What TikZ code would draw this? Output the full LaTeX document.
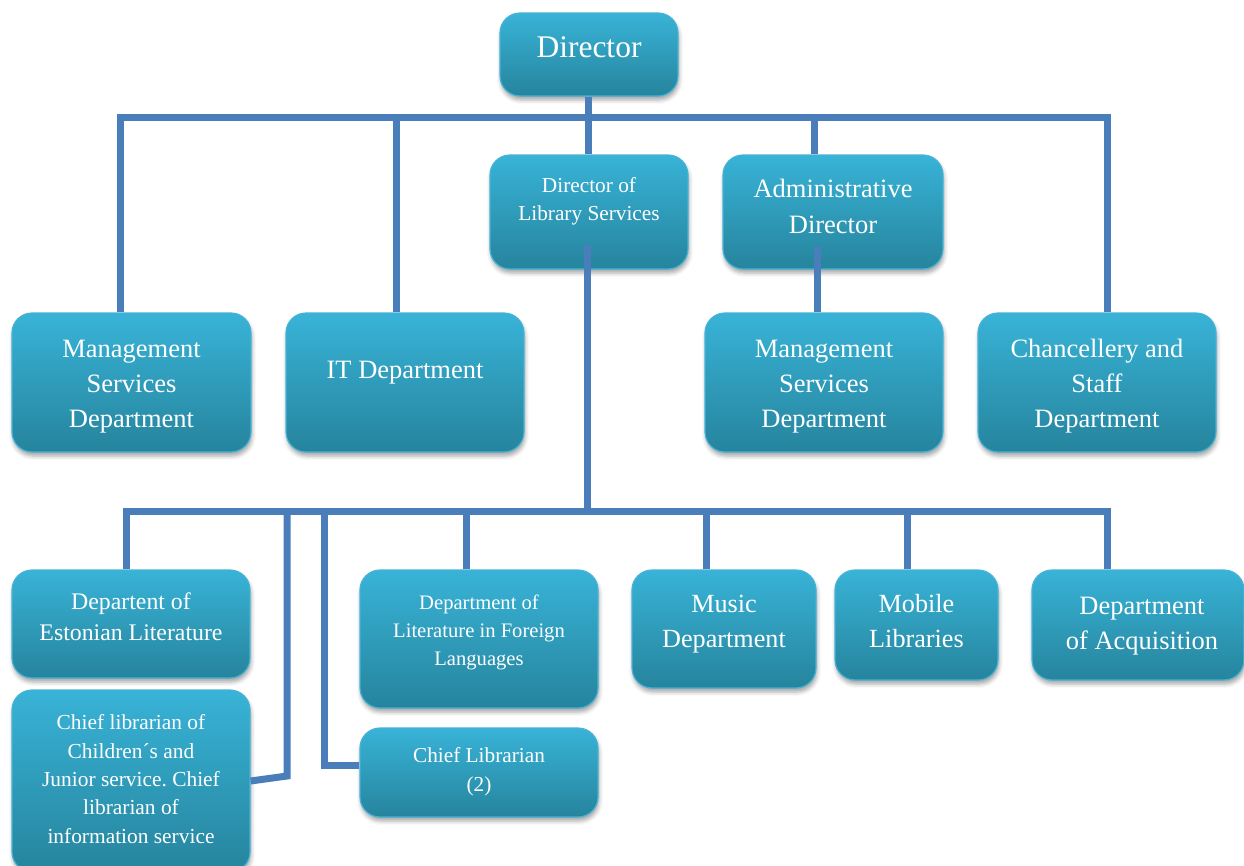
\documentclass[tikz,border=0pt]{standalone}
\usepackage{fontspec}
\setmainfont{Liberation Serif}
\usetikzlibrary{shadows.blur}
\definecolor{boxtop}{HTML}{38B3D7}
\definecolor{boxbot}{HTML}{26849D}
\definecolor{boxline}{HTML}{45B2D6}
\definecolor{lineblue}{HTML}{4A7EBB}
\tikzset{
  orgbox/.style={rectangle, rounded corners=20pt, top color=boxtop, bottom color=boxbot,
    draw=boxline, line width=1.2pt, inner sep=0pt,
    blur shadow={shadow xshift=1pt, shadow yshift=-4pt, shadow blur radius=4pt, shadow opacity=35}},
  txt/.style={text=white, align=center, inner sep=0pt},
  conn/.style={draw=lineblue, line width=7pt}
}
\newcommand{\fs}[2]{\fontsize{#1}{#2}\selectfont}
\frenchspacing
\begin{document}
\begin{tikzpicture}[x=1pt,y=-1pt]
\useasboundingbox (0,0) rectangle (1244,865);
% boxes
\node[orgbox, minimum width=178pt, minimum height=83pt] (dir) at (589,54.5) {};
\node[orgbox, minimum width=198pt, minimum height=114pt] (dls) at (589,212) {};
\node[orgbox, minimum width=220pt, minimum height=114pt] (adm) at (833,212) {};
\node[orgbox, minimum width=239pt, minimum height=139pt] (ms1) at (131.5,382.5) {};
\node[orgbox, minimum width=238pt, minimum height=139pt] (it) at (405,382.5) {};
\node[orgbox, minimum width=238pt, minimum height=139pt] (ms2) at (824,382.5) {};
\node[orgbox, minimum width=238pt, minimum height=139pt] (chan) at (1097,382.5) {};
\node[orgbox, minimum width=238pt, minimum height=108pt] (est) at (131,624) {};
\node[orgbox, minimum width=238pt, minimum height=182pt] (chl) at (131,781) {};
\node[orgbox, minimum width=238pt, minimum height=138pt] (flit) at (479,639) {};
\node[orgbox, minimum width=238pt, minimum height=89pt] (chief2) at (479,772.5) {};
\node[orgbox, minimum width=184pt, minimum height=118pt] (mus) at (724,629) {};
\node[orgbox, minimum width=163pt, minimum height=110pt] (mob) at (916.5,625) {};
\node[orgbox, minimum width=212pt, minimum height=110pt] (acq) at (1138,625) {};
% texts
\node[txt, font=\fs{31.5}{38}] (dir-t) at (589,47.5) {Director};
\node[txt, font=\fs{21.3}{28}] (dls-t) at (589,201) {Director of\\Library Services};
\node[txt, font=\fs{26.5}{36}] (adm-t) at (833,206.5) {Administrative\\Director};
\node[txt, font=\fs{26.5}{35}] (ms1-t) at (131.5,387) {Management\\Services\\Department};
\node[txt, font=\fs{26.5}{35}] (it-t) at (405,373) {IT Department};
\node[txt, font=\fs{26.5}{35}] (ms2-t) at (824,387) {Management\\Services\\Department};
\node[txt, font=\fs{26.5}{35}] (chan-t) at (1097,386) {Chancellery and\\Staff\\Department};
\node[txt, font=\fs{23.8}{31}] (est-t) at (131,617) {Departent of\\Estonian Literature};
\node[txt, font=\fs{21.4}{28.3}] (chl-t) at (131,779) {Chief librarian of\\Children´s and\\Junior service. Chief\\librarian of\\information service};
\node[txt, font=\fs{20.6}{28}] (flit-t) at (479,632) {Department of\\Literature in Foreign\\Languages};
\node[txt, font=\fs{21.3}{29.5}] (chief2-t) at (479,772) {Chief Librarian\\(2)};
\node[txt, font=\fs{26.2}{35}] (mus-t) at (724,624) {Music\\Department};
\node[txt, font=\fs{26.2}{35}] (mob-t) at (916.5,621) {Mobile\\Libraries};
\node[txt, font=\fs{26.5}{35}] (acq-t) at (1142,626) {Department\\of Acquisition};
% top bus
\coordinate (busL) at (120,117);
\coordinate (busR) at (1107,117);
\draw[conn] (ms1.north -| busL) -- (busL) -- (busR) -- (chan.north -| busR);
\draw[conn] ([xshift=-9pt]it.north) -- ([xshift=-9pt]it.north |- busL);
\draw[conn] ([xshift=-1pt]dir.south) -- ([xshift=-1pt]dls.north);
\draw[conn] ([xshift=-19pt]adm.north) -- ([xshift=-19pt]adm.north |- busL);
% admin to management services
\coordinate (admb) at ([xshift=-16pt,yshift=-35pt]adm.center);
\draw[conn] (admb) -- ([xshift=-7pt]ms2.north);
% bottom bus
\coordinate (bbL) at (126,511);
\coordinate (bbR) at (1107,511);
\coordinate (dlsb) at ([xshift=-2pt,yshift=-33pt]dls.center);
\draw[conn] (dlsb) -- (dlsb |- bbL);
\draw[conn] (est.north -| bbL) -- (bbL) -- (bbR) -- (acq.north -| bbR);
\draw[conn] ([xshift=-13pt]flit.north) -- ([xshift=-13pt]flit.north |- bbL);
\draw[conn] ([xshift=-18pt]mus.north) -- ([xshift=-18pt]mus.north |- bbL);
\draw[conn] ([xshift=-9.5pt]mob.north) -- ([xshift=-9.5pt]mob.north |- bbL);
% side connectors
\coordinate (kc) at (287,776);
\draw[conn] (kc |- bbL) -- (kc) -- (chl.east);
\coordinate (cc) at (324,765);
\draw[conn] (cc |- bbL) -- (cc) -- (cc -| chief2.west);
\end{tikzpicture}
\end{document}
